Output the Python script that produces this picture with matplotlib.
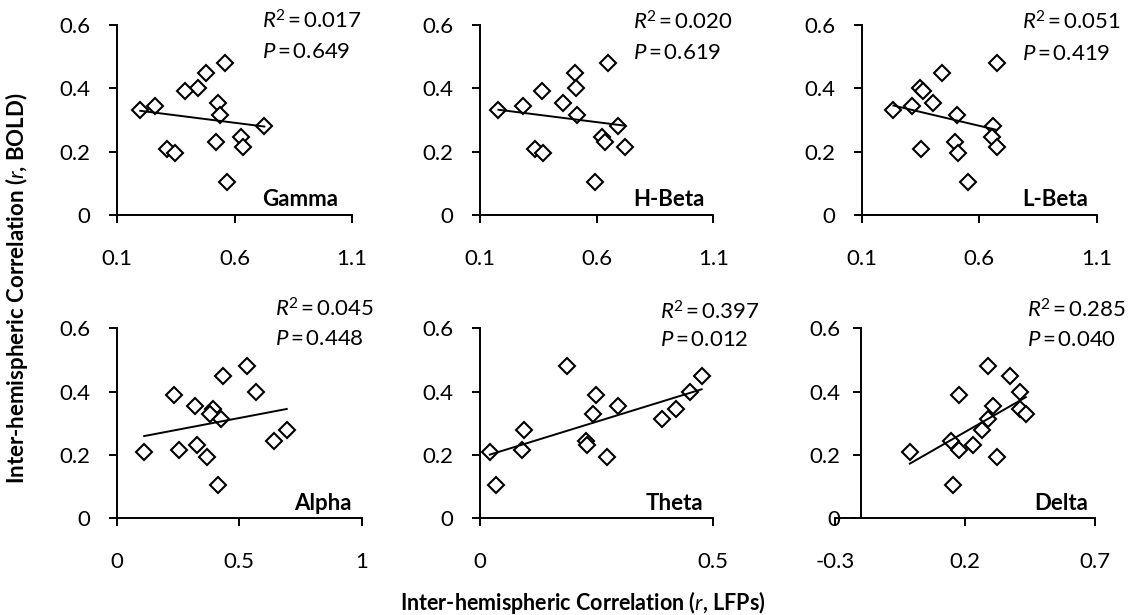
import numpy as np
import matplotlib
matplotlib.use("Agg")
import matplotlib.pyplot as plt

plt.rcParams['font.family'] = ['Lato', 'DejaVu Sans']
plt.rcParams['mathtext.fontset'] = 'custom'
plt.rcParams['mathtext.rm'] = 'Lato'
plt.rcParams['mathtext.it'] = 'Lato:italic'
plt.rcParams['mathtext.bf'] = 'Lato:bold'
plt.rcParams['axes.unicode_minus'] = False

# --- BOLD inter-hemispheric correlation, one value per subject (shared by every band) ---
bold_r = [0.48, 0.45, 0.40, 0.39, 0.355, 0.345, 0.33, 0.315, 0.28, 0.245, 0.23, 0.215, 0.21, 0.195, 0.105]

# --- LFP inter-hemispheric correlation per band, same subject order ---
lfp_gamma = [0.558, 0.480, 0.445, 0.389, 0.530, 0.262, 0.199, 0.537, 0.727, 0.628, 0.520, 0.635, 0.311, 0.346, 0.569]
lfp_hbeta = [0.647, 0.507, 0.511, 0.364, 0.454, 0.286, 0.179, 0.514, 0.693, 0.621, 0.636, 0.721, 0.336, 0.371, 0.593]
lfp_lbeta = [0.674, 0.440, 0.348, 0.362, 0.402, 0.313, 0.235, 0.504, 0.660, 0.653, 0.497, 0.674, 0.351, 0.511, 0.554]
lfp_alpha = [0.531, 0.433, 0.569, 0.234, 0.320, 0.392, 0.381, 0.424, 0.694, 0.642, 0.329, 0.256, 0.112, 0.370, 0.415]
lfp_theta = [0.187, 0.475, 0.449, 0.249, 0.296, 0.421, 0.243, 0.391, 0.094, 0.227, 0.229, 0.091, 0.021, 0.273, 0.034]
lfp_delta = [0.287, 0.372, 0.412, 0.178, 0.309, 0.410, 0.434, 0.290, 0.265, 0.145, 0.230, 0.177, -0.012, 0.322, 0.155]

bands = ["Gamma", "H-Beta", "L-Beta", "Alpha", "Theta", "Delta"]
lfp_sets = [lfp_gamma, lfp_hbeta, lfp_lbeta, lfp_alpha, lfp_theta, lfp_delta]
r2_labels = ["0.017", "0.020", "0.051", "0.045", "0.397", "0.285"]
p_labels = ["0.649", "0.619", "0.419", "0.448", "0.012", "0.040"]

x_ticks = [[0.1, 0.6, 1.1], [0.1, 0.6, 1.1], [0.1, 0.6, 1.1],
           [0, 0.5, 1], [0, 0.5], [-0.3, 0.2, 0.7]]
x_ticklabels = [["0.1", "0.6", "1.1"], ["0.1", "0.6", "1.1"], ["0.1", "0.6", "1.1"],
                ["0", "0.5", "1"], ["0", "0.5"], ["-0.3", "0.2", "0.7"]]
y_ticks = [0, 0.2, 0.4, 0.6]
y_ticklabels = ["0", "0.2", "0.4", "0.6"]

# --- layout in pixels ---
W, H = 1137, 615
# left, right, top, bottom of each plot area
boxes = [(117, 352, 25, 215), (480, 713.3, 25, 215), (861.7, 1096.7, 25, 215),
         (116.7, 361.7, 328.3, 518.3), (480, 713.3, 328.3, 518.3), (835, 1095, 328.3, 518.3)]
# left edge of stats text, y of R^2 line, y of P line
stats_pos = [(262, 21, 52), (633, 22, 53), (1021.7, 22, 54),
             (275, 309, 339), (660, 312, 340), (1026.7, 310, 340)]
# right edge and centre y of the band name
name_pos = [(338, 200), (705, 200), (1088, 200), (351.7, 503), (703, 503), (1088, 503)]
y_spine_at = [None, None, None, None, None, -0.2]

fig = plt.figure(figsize=(W / 100, H / 100), dpi=100)

for i, band in enumerate(bands):
    l, r, t, b = boxes[i]
    ax = fig.add_axes([l / W, 1 - b / H, (r - l) / W, (b - t) / H])
    x = np.array(lfp_sets[i])
    y = np.array(bold_r)

    ax.plot(x, y, linestyle='none', marker='D', markersize=8.4, markerfacecolor='white',
            markeredgecolor='black', markeredgewidth=1.5, clip_on=False, zorder=3)
    k, c = np.polyfit(x, y, 1)
    xs = np.array([x.min(), x.max()])
    ax.plot(xs, k * xs + c, color='black', linewidth=1.4, zorder=4)

    ax.set_xlim(x_ticks[i][0], x_ticks[i][-1])
    ax.set_ylim(0, 0.6)
    ax.set_xticks(x_ticks[i])
    ax.set_xticklabels(x_ticklabels[i])
    ax.set_yticks(y_ticks)
    ax.set_yticklabels(y_ticklabels)
    ax.patch.set_visible(False)

    for side in ['top', 'right']:
        ax.spines[side].set_visible(False)
    for side in ['left', 'bottom']:
        ax.spines[side].set_linewidth(1.4)
    if y_spine_at[i] is not None:
        ax.spines['left'].set_position(('data', y_spine_at[i]))

    ax.tick_params(axis='both', direction='out', length=6, width=1.4, labelsize=16)
    ax.tick_params(axis='x', pad=18.5)
    ax.tick_params(axis='y', pad=9 if y_spine_at[i] is not None else 13)

    sx, sy1, sy2 = stats_pos[i]
    fig.text(sx / W, 1 - sy1 / H, "$R$$^{2}$\u2009=\u2009" + r2_labels[i], fontsize=16,
             ha='left', va='center')
    fig.text(sx / W, 1 - sy2 / H, "$P$\u2009=\u2009" + p_labels[i], fontsize=16,
             ha='left', va='center')
    nx, ny = name_pos[i]
    fig.text(nx / W, 1 - ny / H, band, fontsize=16, fontweight='bold', ha='right', va='center')

fig.text(17 / W, 1 - 288 / H, r"Inter-hemispheric Correlation ($\mathbf{\mathit{r}}$, BOLD)",
         rotation=90, fontsize=16, fontweight='bold', ha='center', va='center')
fig.text(583 / W, 1 - 603 / H, r"Inter-hemispheric Correlation ($\mathbf{\mathit{r}}$, LFPs)",
         fontsize=15.5, fontweight='bold', ha='center', va='center')

fig.savefig("out.png", dpi=100)
